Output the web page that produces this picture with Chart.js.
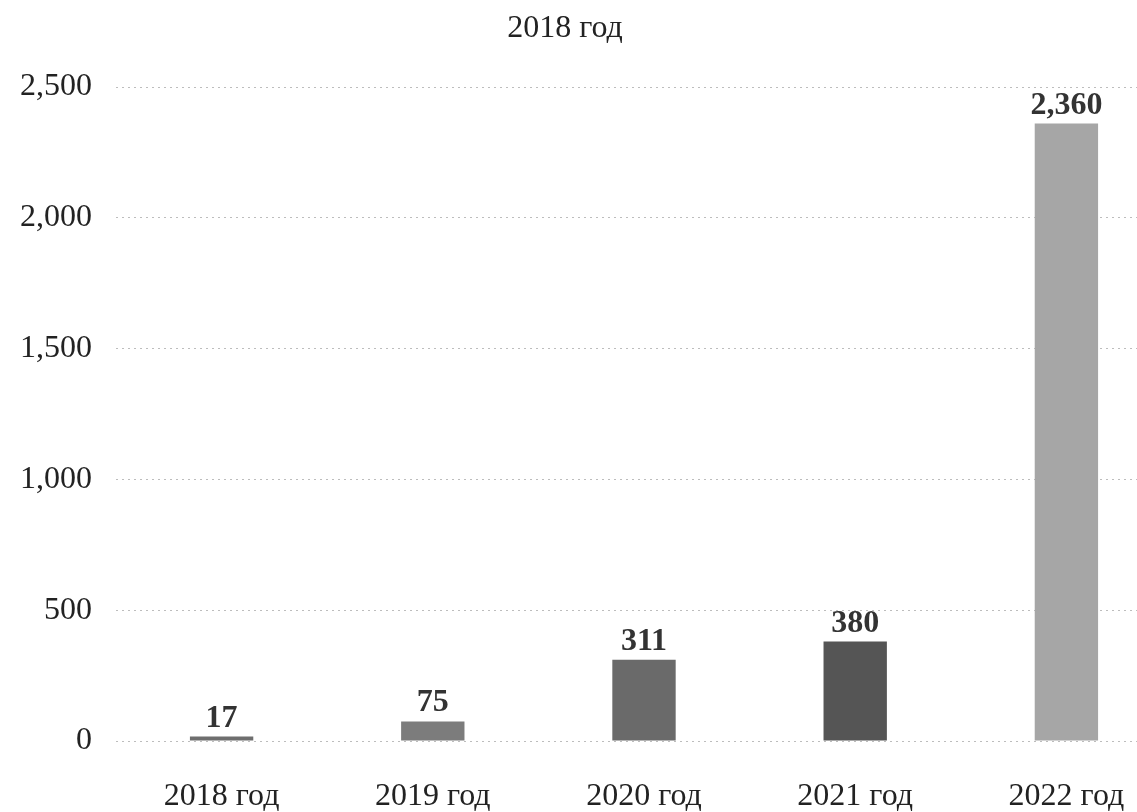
<!DOCTYPE html>
<html>
<head>
<meta charset="utf-8">
<script src="https://cdn.jsdelivr.net/npm/chart.js@4/dist/chart.umd.min.js"></script>
<style>
  html, body { margin: 0; padding: 0; background: #fff; overflow: hidden; }
  #title {
    position: absolute; top: 8px; left: 0; width: 1130px; text-align: center;
    font-family: "Liberation Serif", serif; font-size: 32px; color: #222; z-index: 2;
  }
  #wrap { position: relative; width: 1172px; height: 812px; }
</style>
</head>
<body>
<div id="title">2018 год</div>
<div id="wrap"><canvas id="myChart"></canvas></div>
<script>
const years = ['2018 год', '2019 год', '2020 год', '2021 год', '2022 год'];
const values = [17, 75, 311, 380, 2360];
const barColors = ['#6e6e6e', '#7c7c7c', '#6a6a6a', '#555555', '#a6a6a6'];
const yTicks = [0, 500, 1000, 1500, 2000, 2500];

const SERIF = '"Liberation Serif", serif';

// value labels above each bar
const valueLabels = {
    id: 'valueLabels',
    afterDatasetsDraw(chart) {
        const ctx = chart.ctx;
        const meta = chart.getDatasetMeta(0);
        ctx.save();
        ctx.font = 'bold 32px ' + SERIF;
        ctx.fillStyle = '#333';
        ctx.textAlign = 'center';
        ctx.textBaseline = 'alphabetic';
        meta.data.forEach((bar, i) => {
            ctx.fillText(values[i].toLocaleString('en-US'), bar.x, bar.y - 10);
        });
        ctx.restore();
    }
};

const data = {
    labels: years,
    datasets: [{
        data: values,
        backgroundColor: barColors,
        borderWidth: 0,
        barPercentage: 0.3,
        categoryPercentage: 1
    }]
};

const config = {
    type: 'bar',
    data: data,
    plugins: [valueLabels],
    options: {
        responsive: true,
        maintainAspectRatio: false,
        animation: false,
        layout: { padding: { top: 87, right: 0, bottom: 0, left: 0 } },
        plugins: {
            legend: { display: false },
            tooltip: { enabled: false },
            title: { display: false }
        },
        scales: {
            x: {
                grid: { display: false, drawTicks: false },
                border: { display: false },
                ticks: {
                    color: '#222',
                    padding: 36,
                    font: { family: SERIF, size: 32 }
                },
                afterFit(scale) { scale.height = 71; }
            },
            y: {
                min: 0,
                max: 2500,
                afterBuildTicks(scale) { scale.ticks = yTicks.map(v => ({ value: v })); },
                grid: {
                    color: '#bdbdbd',
                    lineWidth: 1,
                    drawTicks: false
                },
                border: { display: false, dash: [2, 4] },
                ticks: {
                    color: '#222',
                    padding: 24,
                    font: { family: SERIF, size: 32 },
                    callback: v => v.toLocaleString('en-US')
                },
                afterFit(scale) { scale.width = 116; }
            }
        }
    }
};

const myChart = new Chart(document.getElementById('myChart'), config);
</script>
</body>
</html>
